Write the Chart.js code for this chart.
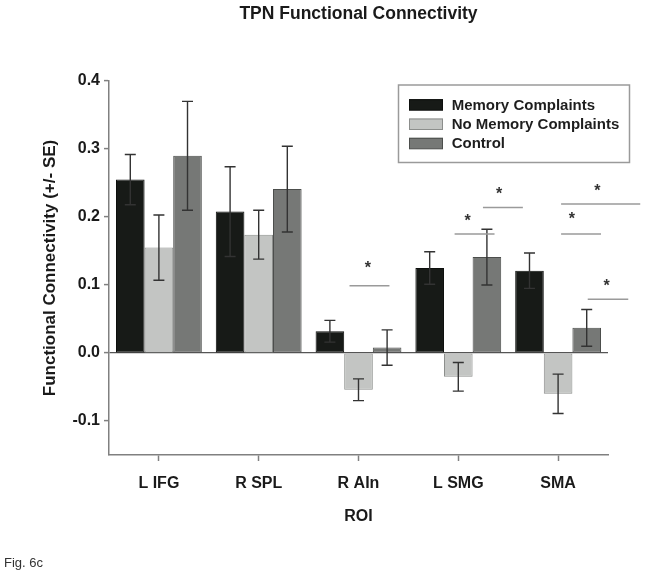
<!DOCTYPE html>
<html>
<head>
<meta charset="utf-8">
<script src="https://cdn.jsdelivr.net/npm/chart.js@4.4.0/dist/chart.umd.min.js"></script>
<style>
  html, body { margin: 0; padding: 0; background: #ffffff; }
  #wrap { position: relative; width: 654px; height: 577px; }
  #fig { position: absolute; left: 4px; top: 555px; font: 13px "Liberation Sans", Arial, sans-serif; color: #333; }
</style>
</head>
<body>
<div id="wrap">
  <canvas id="c" width="654" height="577"></canvas>
  <div id="fig">Fig. 6c</div>
</div>
<script>
const categories = ['L IFG', 'R SPL', 'R AIn', 'L SMG', 'SMA'];
const seriesNames = ['Memory Complaints', 'No Memory Complaints', 'Control'];
const memory     = [0.255, 0.208, 0.032, 0.125, 0.121];
const memorySE   = [0.037, 0.066, 0.016, 0.024, 0.026];
const noMemory   = [0.155, 0.174, -0.054, -0.035, -0.060];
const noMemorySE = [0.048, 0.036, 0.016, 0.021, 0.029];
const control    = [0.290, 0.241, 0.008, 0.141, 0.037];
const controlSE  = [0.080, 0.063, 0.026, 0.041, 0.027];
const yTicks = [-0.1, 0.0, 0.1, 0.2, 0.3, 0.4];
// significance brackets: [xStart, xEnd, y] in category/value units
const sigLines = [
  [1.91, 2.31, 0.099],
  [2.963, 3.363, 0.175],
  [3.247, 3.647, 0.214],
  [4.03, 4.43, 0.175],
  [4.03, 4.823, 0.219],
  [4.297, 4.703, 0.079]
];
// significance stars: [x, y]
const sigStars = [
  [2.093, 0.131],
  [3.093, 0.200],
  [3.41, 0.240],
  [4.137, 0.203],
  [4.393, 0.244],
  [4.487, 0.105]
];

const FONT = '"Liberation Sans", Arial, sans-serif';
const fills = ['#171a17', '#c3c5c3', '#767876'];
const borders = ['#0d0f0d', '#8c8e8c', '#4c4e4c'];
const errs = [memorySE, noMemorySE, controlSE];

const extras = {
  id: 'extras',
  afterDatasetsDraw(chart) {
    const ctx = chart.ctx;
    const xs = chart.scales.x, ys = chart.scales.y;
    ctx.save();
    // error bars
    ctx.strokeStyle = '#333';
    ctx.lineWidth = 1.4;
    chart.data.datasets.forEach((ds, i) => {
      const meta = chart.getDatasetMeta(i);
      meta.data.forEach((el, j) => {
        const v = ds.data[j], se = errs[i][j];
        const yt = ys.getPixelForValue(v + se), yb = ys.getPixelForValue(v - se);
        const x = el.x, hw = 5.5;
        ctx.beginPath();
        ctx.moveTo(x, yt); ctx.lineTo(x, yb);
        ctx.moveTo(x - hw, yt); ctx.lineTo(x + hw, yt);
        ctx.moveTo(x - hw, yb); ctx.lineTo(x + hw, yb);
        ctx.stroke();
      });
    });
    // significance lines
    ctx.strokeStyle = '#9a9a9a';
    ctx.lineWidth = 1.5;
    sigLines.forEach(([a, b, v]) => {
      const y = ys.getPixelForValue(v);
      ctx.beginPath();
      ctx.moveTo(xs.getPixelForValue(a), y);
      ctx.lineTo(xs.getPixelForValue(b), y);
      ctx.stroke();
    });
    ctx.fillStyle = '#333';
    ctx.font = 'bold 16px ' + FONT;
    ctx.textAlign = 'center';
    ctx.textBaseline = 'alphabetic';
    sigStars.forEach(([a, v]) => {
      ctx.fillText('*', xs.getPixelForValue(a), ys.getPixelForValue(v) + 16 * 0.57);
    });
    // title
    ctx.fillStyle = '#1a1a1a';
    ctx.font = 'bold 17.5px ' + FONT;
    ctx.textBaseline = 'middle';
    ctx.fillText('TPN Functional Connectivity', (chart.chartArea.left + chart.chartArea.right) / 2, 14);
    // legend
    ctx.strokeStyle = '#9a9a9a';
    ctx.lineWidth = 1.5;
    ctx.strokeRect(398.5, 85, 231, 77.5);
    ctx.font = 'bold 15px ' + FONT;
    ctx.textAlign = 'left';
    chart.data.datasets.forEach((ds, i) => {
      const cy = 104.7 + i * 19.3;
      ctx.fillStyle = ds.backgroundColor;
      ctx.fillRect(409, cy - 5.5, 34, 11);
      ctx.strokeStyle = ds.borderColor;
      ctx.lineWidth = 1;
      ctx.strokeRect(409.5, cy - 5, 33, 10.5);
      ctx.fillStyle = '#1e1e1e';
      ctx.fillText(ds.label, 451.7, cy + 1);
    });
    ctx.restore();
  }
};

const datasets = [memory, noMemory, control].map((d, i) => ({
  label: seriesNames[i],
  data: d,
  backgroundColor: fills[i],
  borderColor: borders[i],
  borderWidth: 1,
  borderSkipped: false,
  categoryPercentage: 0.86,
  barPercentage: 1.0
}));

new Chart(document.getElementById('c'), {
  type: 'bar',
  data: { labels: categories, datasets },
  plugins: [extras],
  options: {
    responsive: false,
    animation: false,
    layout: { padding: { left: 36, top: 81, right: 46, bottom: 47 } },
    plugins: { legend: { display: false }, tooltip: { enabled: false }, title: { display: false } },
    scales: {
      x: {
        offset: true,
        afterFit(s) { s.height = 75; },
        grid: { offset: false, drawOnChartArea: false, drawTicks: true, tickLength: 6, tickColor: '#808080', tickWidth: 1.5 },
        border: { display: true, color: '#808080', width: 1.5 },
        ticks: { color: '#1a1a1a', font: { family: FONT, size: 16, weight: 'bold' }, padding: 13 },
        title: { display: true, text: 'ROI', color: '#1a1a1a', font: { family: FONT, size: 16, weight: 'bold' } }
      },
      y: {
        min: -0.15, max: 0.4,
        afterFit(s) { s.width = 73; },
        afterBuildTicks(s) { s.ticks = yTicks.map(v => ({ value: v })); },
        grid: {
          drawOnChartArea: true, drawTicks: true, tickLength: 5, tickColor: '#808080', tickWidth: 1.5,
          color: c => (c.tick && c.tick.value === 0) ? '#555555' : 'rgba(0,0,0,0)', lineWidth: 1.2
        },
        border: { display: true, color: '#808080', width: 1.5 },
        ticks: { color: '#1a1a1a', font: { family: FONT, size: 16, weight: 'bold' }, padding: 4,
                 callback: v => Number(v).toFixed(1) },
        title: { display: true, text: 'Functional Connectivity (+/- SE)', color: '#1a1a1a',
                 font: { family: FONT, size: 17, weight: 'bold' } }
      }
    }
  }
});
</script>
</body>
</html>
